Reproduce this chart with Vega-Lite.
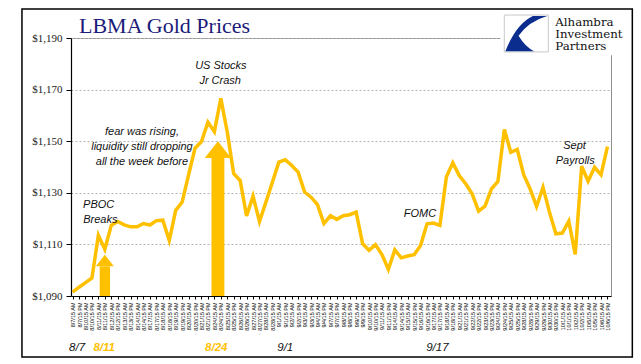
{
  "$schema": "https://vega.github.io/schema/vega-lite/v6.json",
  "width": 540,
  "height": 258,
  "autosize": {"type": "none"},
  "padding": {"left": 71, "top": 38, "right": 30, "bottom": 68},
  "background": "white",
  "config": {
    "view": {"stroke": "#8f8f8f", "strokeWidth": 1},
    "axisX": {
      "labelOverlap": false,
      "labelAngle": 270,
      "labelFontSize": 5.5,
      "labelFont": "Liberation Sans",
      "labelColor": "#000000",
      "labelPadding": 3,
      "labelFlush": false,
      "labelBound": false,
      "grid": false,
      "domainColor": "#000000",
      "domainWidth": 1,
      "tickColor": "#000000",
      "tickSize": 3
    }
  },
  "datasets": {
    "gold": [
      {"i":0,"p":1091.5},{"i":1,"p":1093.4},{"i":2,"p":1095.2},{"i":3,"p":1097.0},
      {"i":4,"p":1113.5},{"i":5,"p":1108.1},{"i":6,"p":1117.4},{"i":7,"p":1118.9},
      {"i":8,"p":1117.6},{"i":9,"p":1116.8},{"i":10,"p":1116.8},{"i":11,"p":1118.1},
      {"i":12,"p":1117.5},{"i":13,"p":1119.2},{"i":14,"p":1119.4},{"i":15,"p":1111.5},
      {"i":16,"p":1123.2},{"i":17,"p":1126.4},{"i":18,"p":1137.0},{"i":19,"p":1147.3},
      {"i":20,"p":1149.9},{"i":21,"p":1157.4},{"i":22,"p":1153.7},{"i":23,"p":1166.6},
      {"i":24,"p":1153.5},{"i":25,"p":1137.4},{"i":26,"p":1134.8},{"i":27,"p":1121.0},
      {"i":28,"p":1128.7},{"i":29,"p":1118.9},{"i":30,"p":1126.4},{"i":31,"p":1134.1},
      {"i":32,"p":1141.9},{"i":33,"p":1142.8},{"i":34,"p":1140.6},{"i":35,"p":1138.0},
      {"i":36,"p":1130.3},{"i":37,"p":1128.3},{"i":38,"p":1125.4},{"i":39,"p":1118.1},
      {"i":40,"p":1121.1},{"i":41,"p":1119.7},{"i":42,"p":1121.1},{"i":43,"p":1121.5},
      {"i":44,"p":1122.5},{"i":45,"p":1110.3},{"i":46,"p":1107.7},{"i":47,"p":1109.9},
      {"i":48,"p":1106.1},{"i":49,"p":1100.3},{"i":50,"p":1107.9},{"i":51,"p":1104.8},
      {"i":52,"p":1105.5},{"i":53,"p":1106.0},{"i":54,"p":1109.6},{"i":55,"p":1118.0},
      {"i":56,"p":1118.3},{"i":57,"p":1117.4},{"i":58,"p":1136.1},{"i":59,"p":1141.6},
      {"i":60,"p":1136.7},{"i":61,"p":1133.5},{"i":62,"p":1129.6},{"i":63,"p":1122.9},
      {"i":64,"p":1124.8},{"i":65,"p":1131.5},{"i":66,"p":1134.4},{"i":67,"p":1154.5},
      {"i":68,"p":1145.7},{"i":69,"p":1146.8},{"i":70,"p":1137.0},{"i":71,"p":1131.5},
      {"i":72,"p":1124.7},{"i":73,"p":1132.1},{"i":74,"p":1122.5},{"i":75,"p":1114.1},
      {"i":76,"p":1114.4},{"i":77,"p":1119.0},{"i":78,"p":1106.1},{"i":79,"p":1140.3},
      {"i":80,"p":1134.5},{"i":81,"p":1139.9},{"i":82,"p":1137.0},{"i":83,"p":1147.9}
    ],
    "arrows": [
      {"part":"a1head","i":3.6,"p":1101.5,"base":1101.5},
      {"part":"a1head","i":5.0,"p":1106,"base":1101.5},
      {"part":"a1head","i":6.4,"p":1101.5,"base":1101.5},
      {"part":"a1shaft","i":4.2,"p":1101.5,"base":1090},
      {"part":"a1shaft","i":5.8,"p":1101.5,"base":1090},
      {"part":"a2head","i":20.5,"p":1143.5,"base":1143.5},
      {"part":"a2head","i":22.55,"p":1150,"base":1143.5},
      {"part":"a2head","i":24.6,"p":1143.5,"base":1143.5},
      {"part":"a2shaft","i":21.55,"p":1143.5,"base":1090},
      {"part":"a2shaft","i":23.55,"p":1143.5,"base":1090}
    ],
    "notes": [
      {"label":"US Stocks","i":23.0,"p":1179.1},
      {"label":"Jr Crash","i":22.9,"p":1173.4},
      {"label":"fear was rising,","i":10.76,"p":1153.5},
      {"label":"liquidity still dropping","i":10.76,"p":1147.7},
      {"label":"all the week before","i":10.76,"p":1142.1},
      {"label":"PBOC","i":4.04,"p":1125.1},
      {"label":"Breaks","i":4.3,"p":1119.5},
      {"label":"FOMC","i":53.9,"p":1121.9},
      {"label":"Sept","i":77.9,"p":1148.1},
      {"label":"Payrolls","i":78.0,"p":1142.5}
    ],
    "dates": [
      {"label":"8/7","i":0.7,"kind":"plain"},
      {"label":"8/11","i":4.9,"kind":"event"},
      {"label":"8/24","i":22.3,"kind":"event"},
      {"label":"9/1","i":33.0,"kind":"plain"},
      {"label":"9/17","i":56.6,"kind":"plain"}
    ],
    "logo": [
      {"label":"Alhambra","i":74.9,"p":1194.81},
      {"label":"Investment","i":74.9,"p":1190.16},
      {"label":"Partners","i":74.9,"p":1185.5}
    ],
    "heading": [
      {"label":"LBMA Gold Prices","i":0.99,"p":1192.1}
    ]
  },
  "layer": [
    {
      "data": {"name": "gold"},
      "mark": {"type": "line", "color": "#FFC000", "strokeWidth": 3.5, "strokeJoin": "miter"},
      "encoding": {
        "x": {
          "field": "i", "type": "quantitative",
          "scale": {"domain": [-0.25, 83.55], "nice": false, "zero": false},
          "axis": {
            "title": null,
            "labelOverlap": false,
            "tickCount": 200,
            "values": [0,1,2,3,4,5,6,7,8,9,10,11,12,13,14,15,16,17,18,19,20,21,22,23,24,25,26,27,28,29,30,31,32,33,34,35,36,37,38,39,40,41,42,43,44,45,46,47,48,49,50,51,52,53,54,55,56,57,58,59,60,61,62,63,64,65,66,67,68,69,70,71,72,73,74,75,76,77,78,79,80,81,82,83],
            "labelExpr": "['8/7','8/10','8/11','8/12','8/13','8/14','8/17','8/18','8/19','8/20','8/21','8/24','8/25','8/26','8/27','8/28','9/1','9/2','9/3','9/4','9/7','9/8','9/9','9/10','9/11','9/14','9/15','9/16','9/17','9/18','9/21','9/22','9/23','9/24','9/25','9/28','9/29','9/30','10/1','10/2','10/5','10/6'][floor(datum.value/2)] + '/15 ' + (datum.value % 2 == 0 ? 'AM' : 'PM')"
          }
        },
        "y": {
          "field": "p", "type": "quantitative",
          "scale": {"domain": [1090, 1190], "nice": false, "zero": false},
          "axis": {
            "title": null,
            "values": [1090, 1110, 1130, 1150, 1170, 1190],
            "format": "$,.0f",
            "labelFont": "Liberation Serif",
            "labelFontSize": 11,
            "labelColor": "#222222",
            "labelPadding": 4,
            "domainColor": "#000000",
            "domainWidth": 1.2,
            "tickColor": "#000000",
            "tickSize": 5,
            "grid": true,
            "gridColor": "#b5b5b5",
            "gridDash": [2, 2],
            "gridWidth": 1
          }
        }
      }
    },
    {
      "data": {"name": "arrows"},
      "mark": {"type": "area", "color": "#FFC000", "opacity": 1},
      "encoding": {
        "x": {"field": "i", "type": "quantitative"},
        "y": {"field": "p", "type": "quantitative"},
        "y2": {"field": "base"},
        "detail": {"field": "part"}
      }
    },
    {
      "data": {"name": "notes"},
      "mark": {"type": "text", "font": "Liberation Sans", "fontStyle": "italic", "fontSize": 11, "color": "#111111", "align": "center", "baseline": "middle"},
      "encoding": {
        "x": {"field": "i", "type": "quantitative"},
        "y": {"field": "p", "type": "quantitative"},
        "text": {"field": "label"}
      }
    },
    {
      "data": {"name": "dates"},
      "transform": [{"filter": "datum.kind == 'plain'"}],
      "mark": {"type": "text", "font": "Liberation Sans", "fontStyle": "italic", "fontSize": 11.5, "color": "#111111", "align": "center", "baseline": "middle"},
      "encoding": {
        "x": {"field": "i", "type": "quantitative"},
        "y": {"datum": 1069.8, "type": "quantitative"},
        "text": {"field": "label"}
      }
    },
    {
      "data": {"name": "dates"},
      "transform": [{"filter": "datum.kind == 'event'"}],
      "mark": {"type": "text", "font": "Liberation Sans", "fontStyle": "italic", "fontWeight": "bold", "fontSize": 11.5, "color": "#FFC000", "align": "center", "baseline": "middle"},
      "encoding": {
        "x": {"field": "i", "type": "quantitative"},
        "y": {"datum": 1069.8, "type": "quantitative"},
        "text": {"field": "label"}
      }
    },
    {
      "data": {"values": [{}]},
      "mark": {"type": "rect", "fill": "white", "stroke": null},
      "encoding": {
        "x": {"datum": 66.4, "type": "quantitative"},
        "x2": {"datum": 86.5},
        "y": {"datum": 1183.3, "type": "quantitative"},
        "y2": {"datum": 1200.6}
      }
    },
    {
      "data": {"values": [{}]},
      "mark": {"type": "rect", "fill": "white", "stroke": "#c8c8c8", "strokeWidth": 1},
      "encoding": {
        "x": {"datum": 66.99, "type": "quantitative"},
        "x2": {"datum": 73.82},
        "y": {"datum": 1184.6, "type": "quantitative"},
        "y2": {"datum": 1198.9}
      }
    },
    {
      "data": {"values": [{}]},
      "mark": {"type": "point", "shape": "M -0.95,0.8 Q -0.45,-0.45 0.3,-0.8 L 0.95,-0.8 Q 0.1,-0.55 -0.35,0.1 Q -0.05,0.6 0.35,0.8 Z", "filled": true, "size": 1936, "color": "#0b2d8e", "opacity": 1},
      "encoding": {
        "x": {"datum": 70.4, "type": "quantitative"},
        "y": {"datum": 1191.7, "type": "quantitative"}
      }
    },
    {
      "data": {"name": "logo"},
      "mark": {"type": "text", "font": "DejaVu Serif", "fontSize": 11.8, "color": "#111111", "align": "left", "baseline": "alphabetic"},
      "encoding": {
        "x": {"field": "i", "type": "quantitative"},
        "y": {"field": "p", "type": "quantitative"},
        "text": {"field": "label"}
      }
    },
    {
      "data": {"name": "heading"},
      "mark": {"type": "text", "font": "Liberation Serif", "fontSize": 22, "color": "#1b1b78", "align": "left", "baseline": "alphabetic"},
      "encoding": {
        "x": {"field": "i", "type": "quantitative"},
        "y": {"field": "p", "type": "quantitative"},
        "text": {"field": "label"}
      }
    },
    {
      "data": {"values": [{}]},
      "mark": {"type": "rect", "filled": false, "stroke": "#000000", "strokeWidth": 1.5},
      "encoding": {
        "x": {"datum": -7.86, "type": "quantitative"},
        "x2": {"datum": 86.86},
        "y": {"datum": 1066.36, "type": "quantitative"},
        "y2": {"datum": 1201.24}
      }
    }
  ]
}
